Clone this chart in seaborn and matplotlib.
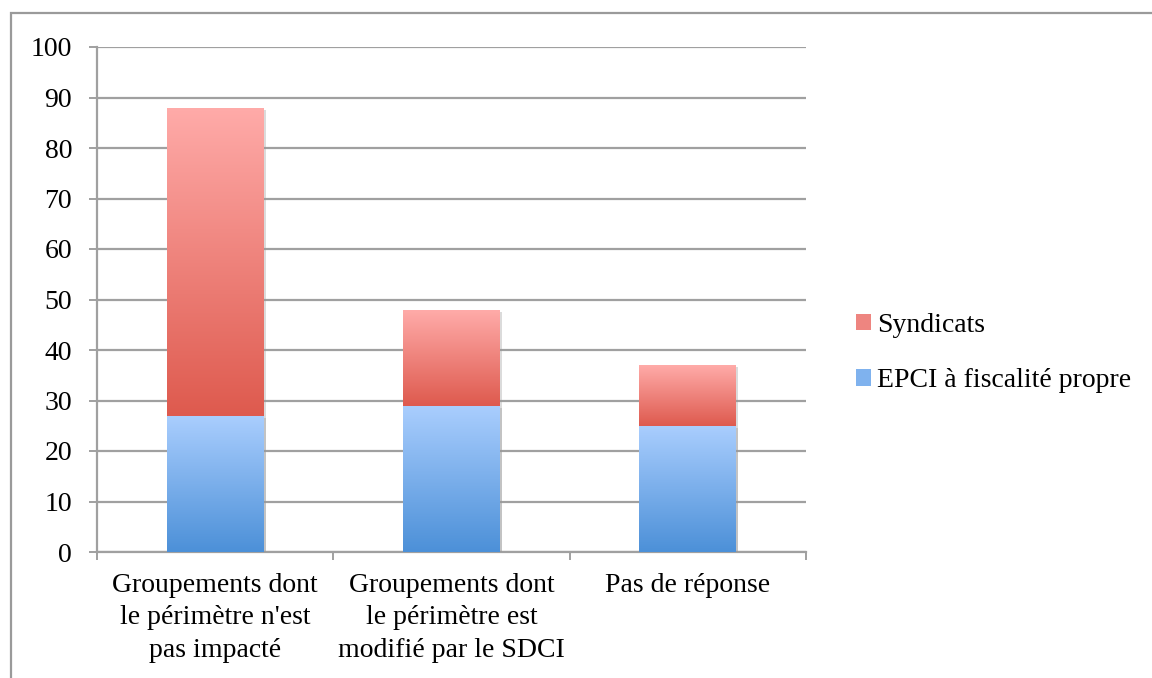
import numpy as np
import pandas as pd
import matplotlib
matplotlib.use("Agg")
import matplotlib.pyplot as plt
import matplotlib.colors as mcolors
from matplotlib.patches import Patch, Rectangle
import matplotlib.patheffects as pe
import seaborn as sns

categories = ["Groupements dont\nle périmètre n'est\npas impacté",
              "Groupements dont\nle périmètre est\nmodifié par le SDCI",
              "Pas de réponse"]
epci = [27, 29, 25]
syndicats = [61, 19, 12]
series_names = ["EPCI à fiscalité propre", "Syndicats"]
yticks = list(range(0, 101, 10))

totals = [a + b for a, b in zip(epci, syndicats)]

sns.set_theme(style="white")
plt.rcParams['font.family'] = ['Liberation Serif', 'DejaVu Serif']
plt.rcParams['text.color'] = 'black'

fig = plt.figure(figsize=(11.52, 6.78), dpi=100)
ax = fig.add_axes([97/1152, 1 - 552/678, (806-97)/1152, (552-47)/678])

df_tot = pd.DataFrame({"cat": categories, "val": totals})
df_epci = pd.DataFrame({"cat": categories, "val": epci})

red_mid = "#E8736A"
blue_mid = "#7FB2EE"
sns.barplot(data=df_tot, x="cat", y="val", color=red_mid, width=0.41,
            saturation=1, ax=ax, zorder=3)
sns.barplot(data=df_epci, x="cat", y="val", color=blue_mid, width=0.41,
            saturation=1, ax=ax, zorder=4)

red_cmap = mcolors.LinearSegmentedColormap.from_list("r", ["#DE5A4E", "#FFABA9"])
blue_cmap = mcolors.LinearSegmentedColormap.from_list("b", ["#4C90D8", "#AACEFE"])
grad = np.linspace(0, 1, 256).reshape(-1, 1)

patches = list(ax.patches)
n = len(categories)
for i, p in enumerate(patches):
    x0 = p.get_x(); w = p.get_width(); h = p.get_height(); y0 = p.get_y()
    if i < n:
        cmap = red_cmap
        bottom = patches[n + i].get_height()
        top = y0 + h
        z = 3
    else:
        cmap = blue_cmap
        bottom = y0
        top = y0 + h
        z = 4
    p.set_path_effects([pe.SimplePatchShadow(offset=(1.5, -1.5), shadow_rgbFace="#999999", alpha=0.35), pe.Normal()])
    im = ax.imshow(grad, cmap=cmap, origin="lower", aspect="auto",
                   extent=(x0, x0 + w, bottom, top), zorder=z + 0.5,
                   interpolation="bilinear")
    im.set_clip_path(p)
    p.set_edgecolor("none")

ax.set_xlim(-0.5, n - 0.5)
ax.set_ylim(0, 100)
ax.set_yticks(yticks)
ax.set_yticklabels([str(t) for t in yticks])
ax.set_xlabel("")
ax.set_ylabel("")

ax.yaxis.grid(True, color="#A0A0A0", linewidth=1.6, zorder=1)
ax.set_axisbelow(True)
for s in ["top", "right"]:
    ax.spines[s].set_visible(False)
for s in ["left", "bottom"]:
    ax.spines[s].set_color("#A0A0A0")
    ax.spines[s].set_linewidth(1.6)

ax.tick_params(axis="y", which="major", length=6, width=1.4, color="#A0A0A0",
               direction="out", left=True, labelsize=20, pad=12, labelcolor="black")
ax.set_xticks(np.arange(-0.5, n, 1.0), minor=True)
ax.tick_params(axis="x", which="minor", length=6, width=1.4, color="#A0A0A0",
               direction="out", bottom=True)
ax.tick_params(axis="x", which="major", length=0, labelsize=20, pad=15, labelcolor="black")
for lbl in ax.get_xticklabels():
    lbl.set_linespacing(1.4)
    lbl.set_ha("center")

handles = [Patch(facecolor="#EE8580", edgecolor="none", label=series_names[1]),
           Patch(facecolor="#7FB2EE", edgecolor="none", label=series_names[0])]
leg = fig.legend(handles=handles, loc="center left", bbox_to_anchor=(845/1152, 1 - 353/678),
                 frameon=False, fontsize=20, handlelength=0.55, handleheight=0.55,
                 handletextpad=0.2, labelspacing=1.1, borderaxespad=0)
for t in leg.get_texts():
    t.set_color("black")

fig.patches.append(Rectangle((11/1152, -0.1), 1.2, 0.1 + (678-13)/678,
                             transform=fig.transFigure, fill=False,
                             edgecolor="#9A9A9A", linewidth=1.6, zorder=0))

fig.savefig("out.png", dpi=100)
